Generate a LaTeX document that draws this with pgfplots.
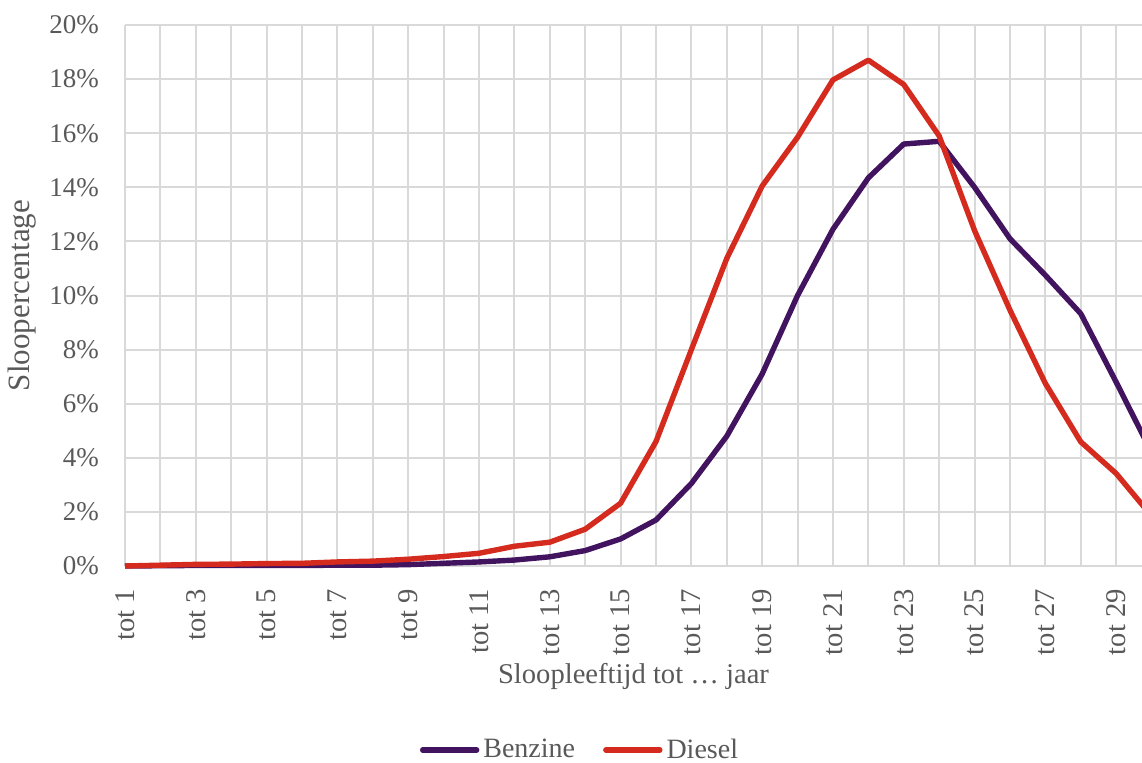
\documentclass[border=0pt]{standalone}
\usepackage{pgfplots}
\pgfplotsset{compat=1.18}
\usepackage{fontspec}
\setmainfont{Liberation Serif}
\definecolor{benz}{HTML}{42145F}
\definecolor{dies}{HTML}{D52B1E}
\definecolor{gridc}{HTML}{D9D9D9}
\definecolor{txt}{HTML}{595959}
\begin{document}
\begin{tikzpicture}
\useasboundingbox (0,0) rectangle (571pt,381pt);
\begin{axis}[
  at={(62.5pt,98pt)}, anchor=south west,
  scale only axis, width=508.5pt, height=270.5pt,
  xmin=1, xmax=29.73, ymin=0, ymax=20,
  clip=false,
  axis line style={draw=none},
  major tick length=0pt,
  xtick={1,...,30},
  xticklabels={tot 1,,tot 3,,tot 5,,tot 7,,tot 9,,tot 11,,tot 13,,tot 15,,tot 17,,tot 19,,tot 21,,tot 23,,tot 25,,tot 27,,tot 29,},
  ytick={0,2,...,20},
  yticklabels={0\%,2\%,4\%,6\%,8\%,10\%,12\%,14\%,16\%,18\%,20\%},
  grid=major,
  major grid style={gridc, line width=1pt},
  tick label style={font=\fontsize{13.5}{15}\selectfont, text=txt},
  yticklabel style={xshift=-9.5pt},
  xticklabel style={rotate=90, anchor=east, font=\fontsize{14.3}{16}\selectfont},
  xticklabel shift=8pt,
  xlabel={Sloopleeftijd tot \ldots\ jaar},
  ylabel={Sloopercentage},
  label style={font=\fontsize{14.3}{16}\selectfont, text=txt},
  xlabel style={at={(axis description cs:0.5,-0.205)}, anchor=center},
  ylabel style={at={(axis description cs:-0.1013,0.5)}, anchor=center, rotate=0, font=\fontsize{15.5}{17}\selectfont},
  legend columns=2,
  legend style={at={(axis description cs:0.4484,-0.340)}, anchor=center, draw=none,
    font=\fontsize{14}{16}\selectfont, text=txt, /tikz/every even column/.append style={column sep=12pt}},
  legend image code/.code={\draw[#1, line cap=round] (0pt,0pt) -- (27pt,0pt);},
]
\addplot[benz, line width=2.7pt, line join=round] coordinates {
(1,0) (2,0.01) (3,0.02) (4,0.02) (5,0.02) (6,0.02) (7,0.03) (8,0.03) (9,0.05) (10,0.10)
(11,0.15) (12,0.22) (13,0.34) (14,0.57) (15,1.0) (16,1.7) (17,3.05) (18,4.8) (19,7.1) (20,10.0)
(21,12.45) (22,14.35) (23,15.6) (24,15.7) (25,14.0) (26,12.1) (27,10.75) (28,9.33) (29,6.8) (30,4.2)
};
\addlegendentry{Benzine}
\addplot[dies, line width=2.7pt, line join=round] coordinates {
(1,0) (2,0.03) (3,0.06) (4,0.07) (5,0.09) (6,0.10) (7,0.15) (8,0.18) (9,0.25) (10,0.35)
(11,0.47) (12,0.73) (13,0.88) (14,1.36) (15,2.32) (16,4.6) (17,8.0) (18,11.37) (19,14.05) (20,15.85)
(21,17.97) (22,18.7) (23,17.8) (24,15.9) (25,12.4) (26,9.46) (27,6.75) (28,4.59) (29,3.42) (30,1.85)
};
\addlegendentry{Diesel}
\end{axis}
\end{tikzpicture}
\end{document}
